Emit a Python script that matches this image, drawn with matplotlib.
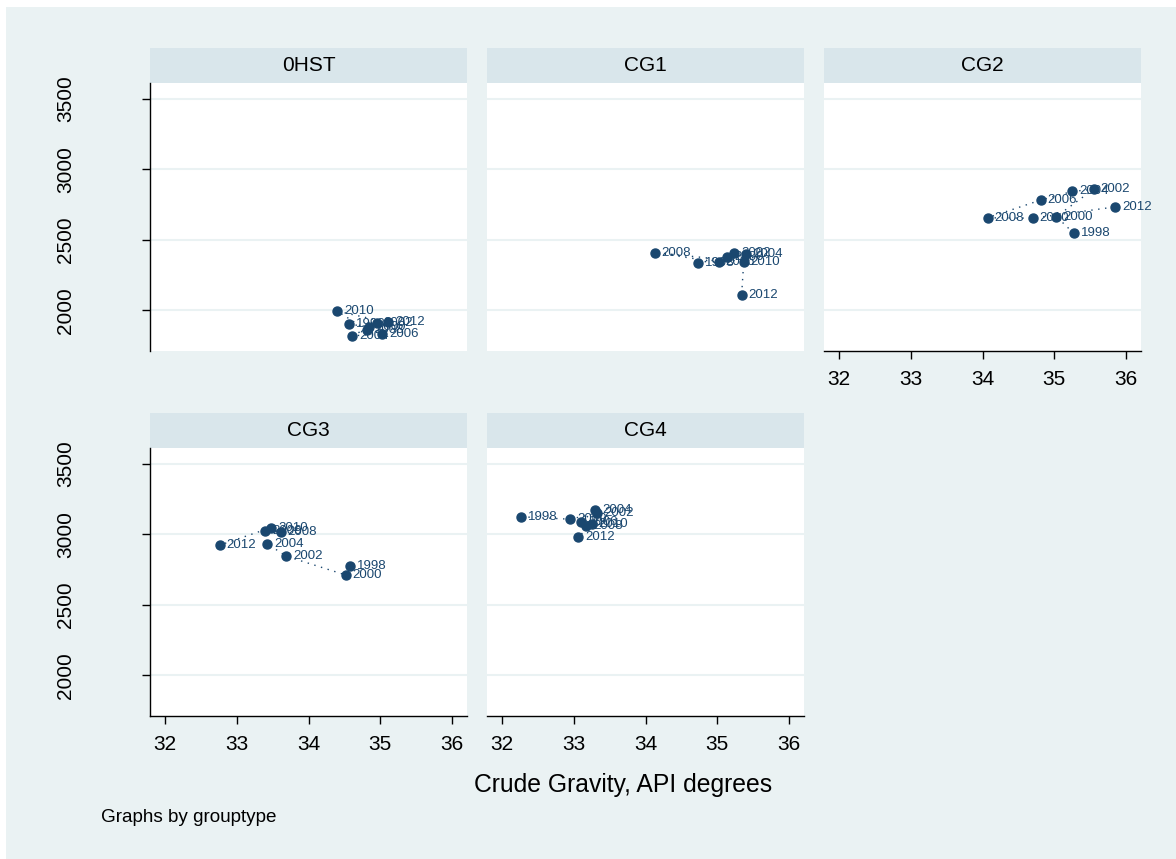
import matplotlib.pyplot as plt
from matplotlib.patches import Rectangle

plt.rcParams['font.family'] = ['Liberation Sans', 'DejaVu Sans']

years = [1998, 2000, 2002, 2004, 2006, 2008, 2010, 2012]
groups = ['0HST', 'CG1', 'CG2', 'CG3', 'CG4']

# API gravity (x) and the y variable for each group, by year
api = {
    '0HST': [34.56, 34.85, 34.95, 34.61, 35.03, 34.82, 34.40, 35.11],
    'CG1':  [34.73, 35.14, 35.24, 35.40, 35.02, 34.13, 35.37, 35.34],
    'CG2':  [35.27, 35.03, 35.55, 35.25, 34.81, 34.07, 34.70, 35.85],
    'CG3':  [34.58, 34.52, 33.69, 33.42, 33.40, 33.61, 33.48, 32.76],
    'CG4':  [32.27, 32.95, 33.33, 33.30, 33.10, 33.17, 33.25, 33.06],
}
yval = {
    '0HST': [1905, 1880, 1910, 1820, 1835, 1860, 1995, 1915],
    'CG1':  [2335, 2375, 2410, 2400, 2340, 2410, 2345, 2110],
    'CG2':  [2547, 2665, 2858, 2842, 2781, 2656, 2653, 2733],
    'CG3':  [2775, 2711, 2844, 2934, 3019, 3016, 3047, 2922],
    'CG4':  [3123, 3106, 3150, 3172, 3085, 3060, 3075, 2977],
}
xticks = [32, 33, 34, 35, 36]
yticks = [2000, 2500, 3000, 3500]

W, H = 1176, 859
navy = '#1A476F'
bg = '#EAF2F3'
strip_col = '#D9E6EB'

fig = plt.figure(figsize=(W / 100, H / 100), dpi=100, facecolor='white')
fig.patches.append(Rectangle((6 / W, 0), 1, 1 - 7 / H, transform=fig.transFigure,
                             facecolor=bg, edgecolor='none', zorder=-10))

cols = [(150, 467), (487, 804), (824, 1141)]
rows = [(48, 83, 351), (413, 448, 716)]


def px_axes(x0, x1, y0, y1):
    return fig.add_axes([x0 / W, 1 - y1 / H, (x1 - x0) / W, (y1 - y0) / H])


for i, g in enumerate(groups):
    r, c = divmod(i, 3)
    x0, x1 = cols[c]
    st, top, bot = rows[r]

    sax = px_axes(x0, x1, st, top)
    sax.set_facecolor(strip_col)
    sax.set_xticks([])
    sax.set_yticks([])
    for s in sax.spines.values():
        s.set_visible(False)
    sax.text(0.5, 0.5, g, ha='center', va='center', fontsize=15, transform=sax.transAxes)

    ax = px_axes(x0, x1, top, bot)
    ax.set_facecolor('white')
    ax.set_xlim(31.79, 36.21)
    ax.set_ylim(1713, 3610)
    ax.set_yticks(yticks)
    ax.set_xticks(xticks)
    ax.grid(axis='y', color=bg, lw=1.5)
    ax.set_axisbelow(True)
    for s in ax.spines.values():
        s.set_visible(False)
        s.set_linewidth(1.0)

    show_y = c == 0
    show_x = g in ('CG2', 'CG3', 'CG4')
    ax.spines['left'].set_visible(show_y)
    ax.spines['bottom'].set_visible(show_x)
    ax.tick_params(axis='y', left=show_y, labelleft=show_y, length=6, width=1,
                   pad=48, labelsize=15, labelrotation=90)
    for lab in ax.get_yticklabels():
        lab.set_va('center')
    ax.tick_params(axis='x', bottom=show_x, labelbottom=show_x, length=6, width=1,
                   pad=8, labelsize=15)

    xs = api[g]
    ys = yval[g]
    ax.plot(xs, ys, color=navy, lw=1, linestyle=(0, (1, 4)), zorder=2)
    ax.plot(xs, ys, 'o', color=navy, ms=6.5, zorder=3, linestyle='none')
    for yr, xv, yv in zip(years, xs, ys):
        ax.annotate(str(yr), (xv, yv), xytext=(5, 0), textcoords='offset points',
                    ha='left', va='center', fontsize=9.5, color=navy, zorder=4)

fig.text(623 / W, 1 - 785 / H, 'Crude Gravity, API degrees', ha='center', va='center', fontsize=17.8)
fig.text(101 / W, 1 - 818 / H, 'Graphs by grouptype', ha='left', va='center', fontsize=13.6)

fig.savefig('out.png', dpi=100, facecolor=fig.get_facecolor())
